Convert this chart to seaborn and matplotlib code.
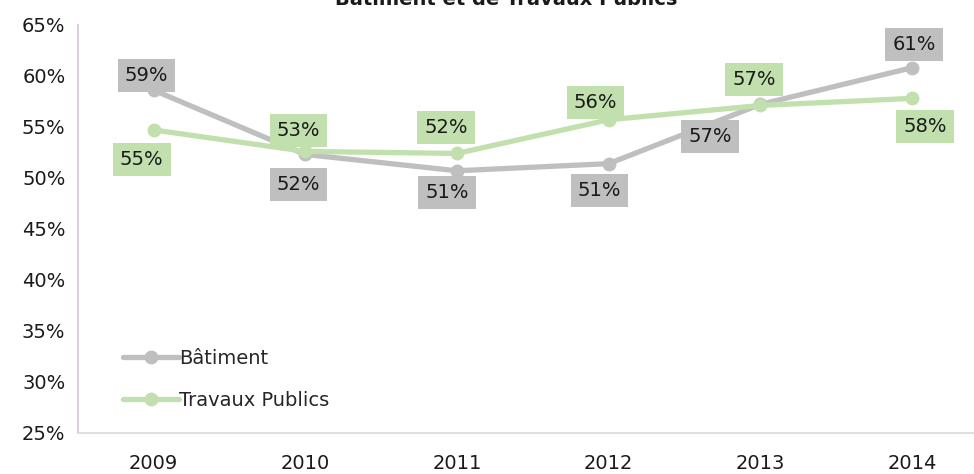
import matplotlib
matplotlib.use("Agg")
import matplotlib.pyplot as plt
import seaborn as sns
import pandas as pd

years = ["2009", "2010", "2011", "2012", "2013", "2014"]
batiment = [58.6, 52.3, 50.7, 51.4, 57.2, 60.8]
travaux_publics = [54.7, 52.6, 52.4, 55.7, 57.1, 57.8]
series_names = ["Bâtiment", "Travaux Publics"]
y_ticks = [25, 30, 35, 40, 45, 50, 55, 60, 65]
title_text = "Bâtiment et de Travaux Publics"

gray = "#bfbfbf"
green = "#c2e0ae"

sns.set_theme(style="white")
plt.rcParams["font.family"] = ["DejaVu Sans"]

df = pd.DataFrame({
    "Année": years * 2,
    "Part": batiment + travaux_publics,
    "Série": [series_names[0]] * len(years) + [series_names[1]] * len(years),
})

fig = plt.figure(figsize=(9.74, 4.74), dpi=100)
ax = fig.add_axes([0.080, 0.0865, 0.934, 0.861])

sns.lineplot(data=df, x="Année", y="Part", hue="Série", palette=[gray, green],
             marker="o", markersize=10, markeredgewidth=0, linewidth=3.8,
             sort=False, ax=ax)

ax.set_xlim(-0.5, 5.5)
ax.set_ylim(25, 65)
ax.set_yticks(y_ticks)
ax.set_yticklabels([f"{v}%" for v in y_ticks])
ax.set_xlabel("")
ax.set_ylabel("")
ax.tick_params(axis="both", length=0, labelsize=14, colors="#1a1a1a")
ax.tick_params(axis="x", pad=15)
ax.tick_params(axis="y", pad=9)

for side in ["top", "right"]:
    ax.spines[side].set_visible(False)
ax.spines["left"].set_color("#d8c4da")
ax.spines["left"].set_linewidth(1.2)
ax.spines["bottom"].set_color("#d9d9d9")
ax.spines["bottom"].set_linewidth(1.2)

# label offsets in pixels (dx, dy), y pointing up
bat_offsets = [(-7, 15), (-7, -30), (-10, -22), (-9, -27), (-50, -32), (2, 23)]
tp_offsets = [(-12, -30), (-7, 21), (-11, 26), (-13, 17), (-6, 26), (13, -28)]

def draw_labels(values, offsets, color):
    for i, (v, (dx, dy)) in enumerate(zip(values, offsets)):
        ax.annotate(f"{v:.0f}%", xy=(i, v), xytext=(dx * 0.72, dy * 0.72),
                    textcoords="offset points", ha="center", va="center",
                    fontsize=14, color="#1a1a1a",
                    bbox=dict(boxstyle="square,pad=0.36", fc=color, ec="none"),
                    zorder=5)

draw_labels(batiment, bat_offsets, gray)
draw_labels(travaux_publics, tp_offsets, green)

leg = ax.legend(loc="lower left", bbox_to_anchor=(0.03, 0.013), frameon=False,
                fontsize=14, handlelength=2.9, handletextpad=0.0,
                labelspacing=1.2, title=None)

fig.text(0.52, 1 - 5 / 474, title_text, ha="center", va="baseline",
         fontsize=14, fontweight="bold", color="#1a1a1a")

fig.savefig("out.png", dpi=100)
